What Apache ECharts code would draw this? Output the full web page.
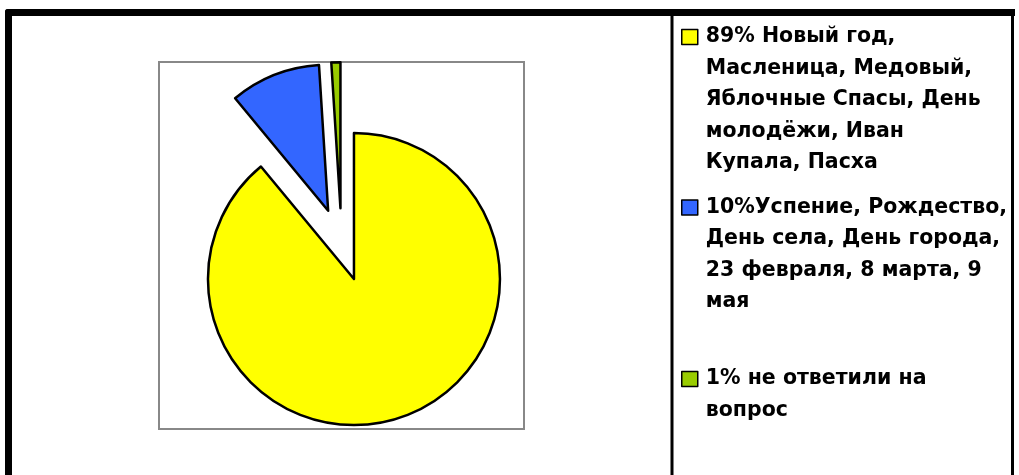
<!DOCTYPE html>
<html>
<head>
<meta charset="utf-8">
<script src="https://cdn.jsdelivr.net/npm/echarts@6/dist/echarts.min.js"></script>
<style>
  html, body { margin: 0; padding: 0; background: #fff; }
  #main { width: 1019px; height: 475px; }
</style>
</head>
<body>
<div id="main"></div>
<script>
// подписи (переносы строк как на картинке)
var names = [
    '89% Новый год,\nМасленица, Медовый,\nЯблочные Спасы, День\nмолодёжи, Иван\nКупала, Пасха',
    '10%Успение, Рождество,\nДень села, День города,\n23 февраля, 8 марта, 9\nмая',
    '1% не ответили на\nвопрос'
];
var values = [89, 10, 1];
var colors = ['#FFFF00', '#3366FF', '#99CC00'];

var LH = 31.5;               // высота строки легенды
var legendY = [37, 207.5, 379]; // центр первой строки каждого пункта

var chart = echarts.init(document.getElementById('main'));

var pieData = values.map(function (v, i) {
    return { name: names[i], value: v, selected: true, itemStyle: { color: colors[i] } };
});

// по одной легенде на пункт, чтобы квадратик стоял у первой строки
var legends = names.map(function (n, i) {
    var lines = n.split('\n').length;
    var pad = new Array(lines).join('\n'); // пустые строки сверху, чтобы 1-я строка была по центру
    return {
        orient: 'vertical',
        left: 681,
        top: legendY[i] - (2 * lines - 1) * LH / 2,
        padding: 0,
        icon: 'rect',
        itemWidth: 16,
        itemHeight: 15,
        selectedMode: false,
        data: [n],
        formatter: function (name) { return pad + name; },
        itemStyle: { borderColor: '#000', borderWidth: 1.5 },
        textStyle: {
            fontFamily: 'DejaVu Sans',
            fontWeight: 'bold',
            fontSize: 20.5,
            color: '#000',
            lineHeight: LH,
            padding: [0, 0, 0, 3]
        }
    };
});

chart.setOption({
    animation: false,
    legend: legends,
    graphic: [
        // серая рамка области диаграммы
        { type: 'rect', shape: { x: 159, y: 62, width: 365, height: 367 },
          style: { fill: null, stroke: '#888', lineWidth: 2 } },
        // чёрная рамка
        { type: 'rect', shape: { x: 5, y: 9, width: 1010, height: 7, r: [3, 0, 0, 0] }, style: { fill: '#000' } },
        { type: 'rect', shape: { x: 5, y: 9, width: 7, height: 470, r: [3, 0, 0, 0] }, style: { fill: '#000' } },
        { type: 'rect', shape: { x: 1011, y: 9, width: 3, height: 470 }, style: { fill: '#000' } },
        { type: 'rect', shape: { x: 670.5, y: 9, width: 3, height: 470 }, style: { fill: '#000' } }
    ],
    series: [{
        type: 'pie',
        center: [341.6, 244.7],
        radius: 146,
        startAngle: 90,
        clockwise: true,
        selectedMode: 'multiple',
        selectedOffset: 36.5,
        label: { show: false },
        labelLine: { show: false },
        itemStyle: { borderColor: '#000', borderWidth: 2.5 },
        select: { itemStyle: { borderColor: '#000', borderWidth: 2.5 } },
        emphasis: { disabled: true },
        data: pieData
    }]
});
</script>
</body>
</html>
